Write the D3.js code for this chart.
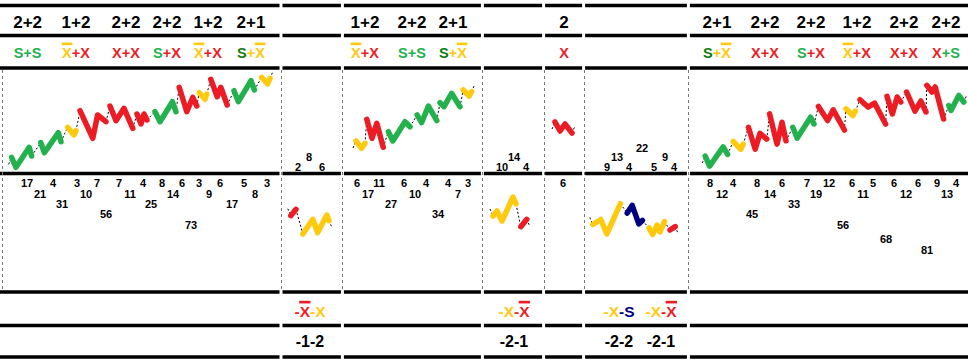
<!DOCTYPE html>
<html>
<head>
<meta charset="utf-8">
<script src="https://cdn.jsdelivr.net/npm/d3@7/dist/d3.min.js"></script>
<style>
body { margin: 0; background: #fff; }
svg { display: block; }
text { font-family: "Liberation Sans", Arial, sans-serif; font-weight: bold; }
</style>
</head>
<body>
<div id="chart"></div>
<script>
/* -----------------------
data
------------------------- */

// panel borders, in bars
var dividers = [0, 69.75, 85.1, 120.1, 135.4, 145.4, 171.6];

// waves above the middle line: [colour, [[bar, value], ...]]
var upA = [
  ["g", [[2.4, 12.7], [3.5, 2.7], [6.8, 22.7], [7.4, 14]]],
  ["g", [[9.7, 27.3], [10.6, 17.3], [14.1, 37.3], [14.75, 28.3]]],
  ["y", [[16.4, 42.7], [18, 35], [18.5, 39.3]]],
  ["r", [[19.5, 59.3], [22.7, 31.7], [23.9, 55], [26, 48.3]]],
  ["r", [[27, 64], [28.5, 49.3], [30.5, 61.7], [32.7, 41.7]]],
  ["r", [[33.75, 56], [34.75, 46], [35.5, 56], [36.25, 50]]],
  ["g", [[38.25, 58.3], [39.5, 48.3], [42.6, 68.3], [43.5, 58.3]]],
  ["r", [[44.3, 82.7], [46.2, 58.3], [47.7, 72.7], [48.7, 64]]],
  ["y", [[49.3, 77.3], [50.75, 70.7], [51.2, 76]]],
  ["r", [[52.2, 90.7], [53.8, 73.3], [54.7, 82.7], [56.3, 65]]],
  ["g", [[58, 79.3], [59.1, 68.3], [62.25, 89.3], [63.1, 80]]],
  ["y", [[64.9, 92.7], [66.4, 86], [67, 91.7]]]
];
var upC = [
  ["y", [[88.5, 29], [89.9, 21.7], [90.75, 26.7]]],
  ["r", [[91.2, 50.7], [92.5, 31.7], [93.7, 46.7], [95.3, 22.7]]],
  ["g", [[96.6, 38.3], [97.7, 29], [100.75, 48.3], [102, 43.3]]],
  ["g", [[103.8, 55], [104.9, 47.3], [106.6, 64], [108.7, 49.3]]],
  ["g", [[109.5, 67.3], [110.5, 63.3], [112.4, 76.7], [114.5, 63.3]]],
  ["y", [[115.3, 80], [116.8, 74], [117.4, 78.3]]]
];
var upE = [
  ["r", [[138.25, 48], [139.5, 39], [140.75, 46], [142.5, 37]]]
];
var upG = [
  ["g", [[175.8, 14], [176.9, 3.9], [180.3, 23.1], [181.4, 15.7]]],
  ["y", [[182.8, 28.5], [184.7, 20.8], [185.3, 25.8]]],
  ["r", [[186.6, 42.7], [188.3, 20.8], [189.5, 36.6], [191.2, 30.9]]],
  ["r", [[191.9, 56.1], [193.75, 25.8], [195, 47.7], [196, 29.2]]],
  ["g", [[197.7, 42.7], [198.8, 31.9], [202.15, 52.8], [203, 46]]],
  ["r", [[204.1, 63.5], [206.4, 49.4], [207.8, 60.2], [210.6, 40]]],
  ["y", [[211, 61.2], [212.7, 54.4], [213.35, 58.8]]],
  ["r", [[214.5, 70.3], [216.5, 62.9], [218.15, 66.9], [220.9, 46]]],
  ["r", [[221.25, 73.6], [222.6, 56.1], [223.8, 73], [224.7, 68]]],
  ["r", [[226.15, 78], [228.25, 58.8], [229.7, 69], [231, 58]]],
  ["r", [[231.2, 84.7], [232.5, 78], [233.3, 83], [235.4, 51]]],
  ["g", [[236.7, 64.5], [237.25, 59.5], [239.2, 74.6], [240.45, 68]]]
];

// waves below the middle line
var lowB = [
  ["r", [[72.2, -40.7], [73.5, -34.3]]],
  ["y", [[75.2, -59], [77.7, -44.3], [78.9, -57.7], [81.2, -40], [81.75, -45.7]]]
];
var lowD = [
  ["y", [[122.75, -41], [123.75, -36], [125, -46], [127.75, -22], [128.5, -29]]],
  ["r", [[129.7, -51.7], [131.2, -44.3]]]
];
var lowF = [
  ["y", [[147.7, -49.5], [149.7, -44.5], [151.2, -59], [154.6, -28.7]]],
  ["n", [[156.3, -38.1], [157.55, -30.4], [159.2, -48.9], [160.1, -45.5]]],
  ["y", [[161.75, -53], [162.7, -59.5], [163.75, -50], [164.5, -57], [165.6, -46.5]]],
  ["r", [[167, -55], [168.3, -51.6]]]
];

// count trees: [value, level, bar]
var treeA = [[17,1,6.25],[4,1,12.75],[3,1,18.75],[7,1,23.75],[7,1,29.25],[4,1,35.25],[8,1,40],[6,1,45],[3,1,49.25],[6,1,54.5],[5,1,60.5],[3,1,66.25],
  [21,2,9.5],[10,2,21],[11,2,32],[14,2,42.75],[9,2,51.75],[8,2,63.25],
  [31,3,15],[25,3,37.25],[17,3,57.5],[56,4,26],[73,5,47.25]];
var treeB = [[2,1,74],[8,2,76.75],[6,1,80]];
var treeC = [[6,1,88.75],[11,1,94.25],[6,1,100.5],[4,1,106],[4,1,111.5],[3,1,116.5],
  [17,2,91.5],[10,2,103.25],[7,2,114],[27,3,97.25],[34,4,109]];
var treeD = [[10,1,125],[14,2,128],[4,1,131]];
var treeE = [[6,1,140.25]];
var treeF = [[9,1,151.25],[13,2,153.75],[4,1,156.75],[22,3,160],[5,1,163],[9,2,165.75],[4,1,168]];
var treeG = [[8,1,177],[4,1,182.75],[8,1,188.75],[6,1,195],[7,1,201.25],[12,1,206.75],[6,1,212.5],[5,1,217.75],[6,1,223],[6,1,229],[9,1,233.75],[4,1,238.5],
  [12,2,180],[14,2,192],[19,2,203.5],[11,2,215.25],[12,2,226],[13,2,236.25],
  [33,3,198],[45,4,187.5],[56,5,210.25],[68,6,221],[81,7,231.25]];

// header rows
var countText = ["2+2","1+2","2+2","2+2","1+2","2+1", "1+2","2+2","2+1", "2", "2+1","2+2","2+2","1+2","2+2","2+2"];
var countBars = [6.4,18.5,31,41.25,51.5,62.25, 90.75,102.5,112.75, 140.5, 178.75,190.75,202.25,213.75,225.5,236];
// pattern labels: parts [text, colour, overline]
var pattParts = [
  [["S+S","g"]],
  [["X","y",1],["+X","r"]],
  [["X+X","r"]],
  [["S","g"],["+X","r"]],
  [["X","y",1],["+X","r"]],
  [["S","d"],["+","y"],["X","y",1]],
  [["X","y",1],["+X","r"]],
  [["S+S","g"]],
  [["S","d"],["+","y"],["X","y",1]],
  [["X","r"]],
  [["S","d"],["+","y"],["X","y",1]],
  [["X+X","r"]],
  [["S","g"],["+X","r"]],
  [["X","y",1],["+X","r"]],
  [["X+X","r"]],
  [["X","r"],["+S","g"]]
];

// footer rows
var negParts = [
  [["-","r"],["X","r",1],["-X","y"]],
  [["-X","y"],["-","r"],["X","r",1]],
  [["-X","y"],["-S","n"]],
  [["-X","y"],["-","r"],["X","r",1]]
];
var negText = ["-1-2","-2-1","-2-2","-2-1"];
var negBars = [77, 128, 154.25, 164.75];

/* -----------------------
set plot
------------------------- */

var width = 968, height = 362;
var colours = {g: "#22b14c", d: "#107c10", r: "#ed1c24", y: "#ffc90e", n: "#000080"};

var rules = [5.5, 35.5, 68, 173.5, 292, 325.5, 357];

var svg = d3.select("#chart")
  .append("svg")
  .attr("width", width)
  .attr("height", height);

var x = d3.scaleLinear().domain([0, 241]).range([2, 966]);
var yUp = d3.scaleLinear().domain([0, 100]).range([170, 70]);
var yLow = d3.scaleLinear().domain([0, -100]).range([175, 275]);
var levelUp = d3.scaleOrdinal().domain([1, 2, 3]).range([166.8, 157.2, 148.4]);
var levelLow = d3.scaleOrdinal().domain([1, 2, 3, 4, 5, 6, 7]).range([183, 193.7, 204.3, 214.5, 224.8, 239.5, 249.6]);

/* -----------------------
grid
------------------------- */

var cuts = dividers.slice(1).map(function(d) { return x(d); });
var bounds = [0].concat(cuts).concat([width]);

rules.forEach(function(ry) {
  for (var i = 0; i < bounds.length - 1; i++) {
    var a = i == 0 ? 0 : bounds[i] + 1.5;
    var b = i == bounds.length - 2 ? width : bounds[i + 1] - 1.5;
    svg.append("line")
      .attr("x1", a).attr("x2", b)
      .attr("y1", ry).attr("y2", ry)
      .attr("stroke", "#000")
      .attr("stroke-width", 3.5);
  }
});

svg.selectAll(".divider")
  .data(dividers)
  .enter().append("line")
  .attr("class", "divider")
  .attr("x1", function(d) { return Math.round(x(d)) + 0.5; })
  .attr("x2", function(d) { return Math.round(x(d)) + 0.5; })
  .attr("y1", 70)
  .attr("y2", 291)
  .attr("stroke", "#777")
  .attr("stroke-width", 1)
  .attr("stroke-dasharray", "3,3");

/* -----------------------
waves
------------------------- */

function drawWaves(waves, y, up) {
  var line = d3.line()
    .x(function(d) { return x(d[0]); })
    .y(function(d) { return y(d[1]); });

  // dashed links between waves
  var links = [];
  var first = waves[0][1][0], lastW = waves[waves.length - 1][1], last = lastW[lastW.length - 1];
  var s = up ? 1 : -1;
  links.push([[x(first[0]) - 3, y(first[1]) + 7 * s], [x(first[0]), y(first[1])]]);
  for (var i = 0; i < waves.length - 1; i++) {
    var e = waves[i][1][waves[i][1].length - 1], n = waves[i + 1][1][0];
    links.push([[x(e[0]), y(e[1])], [x(n[0]), y(n[1])]]);
  }
  links.push([[x(last[0]), y(last[1])], [x(last[0]) + 3, y(last[1]) - 7 * s]]);

  svg.append("g").selectAll("path")
    .data(links)
    .enter().append("path")
    .attr("d", d3.line())
    .attr("fill", "none")
    .attr("stroke", "#000")
    .attr("stroke-width", 1)
    .attr("stroke-dasharray", "2,2");

  svg.append("g").selectAll("path")
    .data(waves)
    .enter().append("path")
    .attr("d", function(d) { return line(d[1]); })
    .attr("fill", "none")
    .attr("stroke", function(d) { return colours[d[0]]; })
    .attr("stroke-width", 5.5)
    .attr("stroke-linecap", "round")
    .attr("stroke-linejoin", "round");
}

[upA, upC, upE, upG].forEach(function(w) { drawWaves(w, yUp, true); });
[lowB, lowD, lowF].forEach(function(w) { drawWaves(w, yLow, false); });

/* -----------------------
count trees
------------------------- */

function drawTree(tree, level) {
  svg.append("g").selectAll("text")
    .data(tree)
    .enter().append("text")
    .attr("x", function(d) { return x(d[2]); })
    .attr("y", function(d) { return level(d[1]); })
    .attr("dy", "0.36em")
    .attr("text-anchor", "middle")
    .attr("font-size", "11px")
    .attr("fill", "#000")
    .text(function(d) { return d[0]; });
}

[treeA, treeC, treeE, treeG].forEach(function(t) { drawTree(t, levelLow); });
[treeB, treeD, treeF].forEach(function(t) { drawTree(t, levelUp); });

/* -----------------------
labels
------------------------- */

function plainRow(texts, bars, base, size) {
  svg.append("g").selectAll("text")
    .data(texts)
    .enter().append("text")
    .attr("x", function(d, i) { return x(bars[i]); })
    .attr("y", base)
    .attr("text-anchor", "middle")
    .attr("font-size", size)
    .attr("fill", "#000")
    .text(function(d) { return d; });
}

function partRow(parts, bars, base, size) {
  parts.forEach(function(p, i) {
    var t = svg.append("text")
      .attr("x", x(bars[i]))
      .attr("y", base)
      .attr("text-anchor", "middle")
      .attr("font-size", size);
    p.forEach(function(q) {
      t.append("tspan").attr("fill", colours[q[1]]).text(q[0]);
    });
    // overline bars
    var k = 0;
    p.forEach(function(q) {
      if (q[2]) {
        var a = t.node().getStartPositionOfChar(k).x;
        var b = t.node().getEndPositionOfChar(k + q[0].length - 1).x;
        svg.append("rect")
          .attr("x", a - 0.5)
          .attr("y", base - size * 0.72 - 5)
          .attr("width", b - a + 1)
          .attr("height", 2.6)
          .attr("fill", colours[q[1]]);
      }
      k += q[0].length;
    });
  });
}

plainRow(countText, countBars, 28, 17);
partRow(pattParts, countBars, 58, 14.5);
partRow(negParts, negBars, 317, 15.5);
plainRow(negText, negBars, 347, 16);
</script>
</body>
</html>
